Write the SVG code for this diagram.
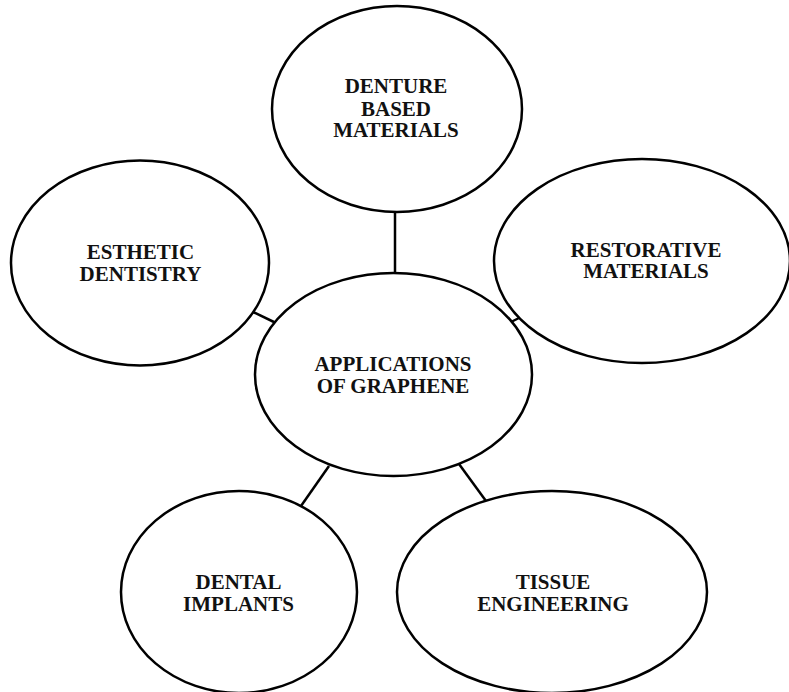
<svg xmlns="http://www.w3.org/2000/svg" width="789" height="692" viewBox="0 0 789 692">
  <style>
    .bubble { fill: #ffffff; stroke: #000000; stroke-width: 2.5; }
    .link { stroke: #000000; stroke-width: 2.5; fill: none; }
    .label { font-family: "Liberation Serif", "Times New Roman", serif; font-weight: bold; font-size: 21px; fill: #111111; text-anchor: middle; }
  </style>
  <rect width="789" height="692" fill="#ffffff"/>

  <!-- spokes from the hub to each application -->
  <g id="connectors">
    <line class="link" x1="395" y1="212" x2="395" y2="274"/>
    <line class="link" x1="253" y1="312" x2="276" y2="323"/>
    <line class="link" x1="511" y1="322" x2="521" y2="317"/>
    <line class="link" x1="329" y1="466" x2="301" y2="506"/>
    <line class="link" x1="459" y1="464" x2="486" y2="501"/>
  </g>

  <g id="denture-based-materials">
    <ellipse class="bubble" cx="397" cy="109" rx="125" ry="103"/>
    <text class="label" x="396" y="93">DENTURE<tspan x="396" y="116">BASED</tspan><tspan x="396" y="137">MATERIALS</tspan></text>
  </g>

  <g id="esthetic-dentistry">
    <ellipse class="bubble" cx="140" cy="263" rx="129" ry="102.5"/>
    <text class="label" x="140.5" y="259">ESTHETIC<tspan x="140.5" y="280.5">DENTISTRY</tspan></text>
  </g>

  <g id="restorative-materials">
    <ellipse class="bubble" cx="642" cy="261" rx="148" ry="102"/>
    <text class="label" x="646" y="256.5">RESTORATIVE<tspan x="646" y="278">MATERIALS</tspan></text>
  </g>

  <g id="applications-of-graphene">
    <ellipse class="bubble" cx="393.5" cy="374.5" rx="138.5" ry="101.5"/>
    <text class="label" x="393" y="371">APPLICATIONS<tspan x="393" y="392.5">OF GRAPHENE</tspan></text>
  </g>

  <g id="dental-implants">
    <ellipse class="bubble" cx="239" cy="592" rx="118" ry="101"/>
    <text class="label" x="238.5" y="589">DENTAL<tspan x="238.5" y="610.5">IMPLANTS</tspan></text>
  </g>

  <g id="tissue-engineering">
    <ellipse class="bubble" cx="552" cy="592" rx="155" ry="101"/>
    <text class="label" x="553" y="589">TISSUE<tspan x="553" y="610.5">ENGINEERING</tspan></text>
  </g>
</svg>
